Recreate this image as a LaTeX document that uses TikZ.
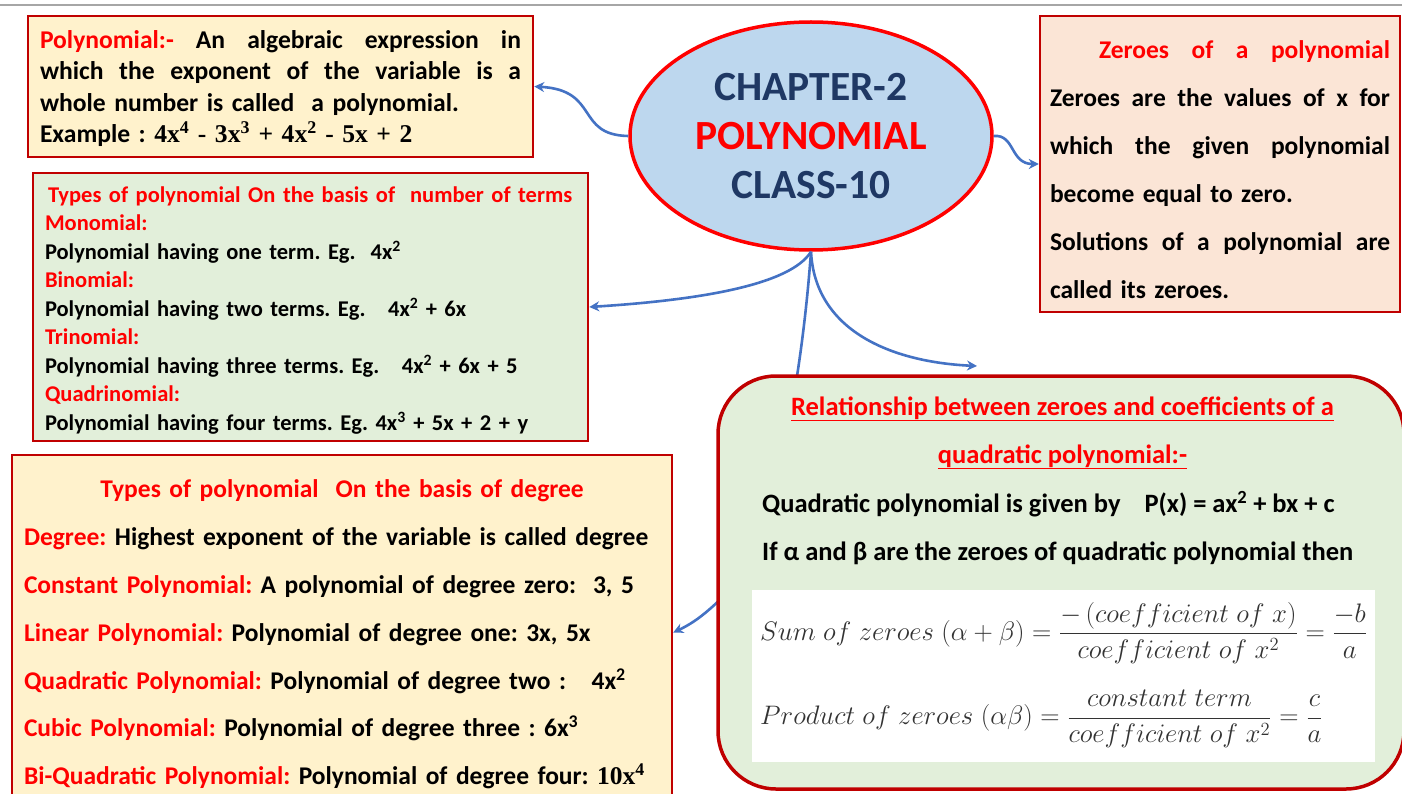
\documentclass[tikz,border=0pt]{standalone}
\usepackage[no-math]{fontspec}
\setmainfont{Carlito}
\newfontfamily\serifnum{Liberation Serif}
\usepackage{xcolor,graphicx}
\definecolor{pnred}{HTML}{FF0000}
\definecolor{pnframe}{HTML}{C00000}
\definecolor{pnyellow}{HTML}{FFF2CC}
\definecolor{pnpeach}{HTML}{FBE5D6}
\definecolor{pngreen}{HTML}{E2EFDA}
\definecolor{pnblue}{HTML}{BDD7EE}
\definecolor{pnnavy}{HTML}{1F3864}
\definecolor{pnlink}{HTML}{4472C4}
\usetikzlibrary{arrows.meta,shapes.geometric,positioning}
\newcommand{\hl}[1]{\textcolor{pnred}{#1}}
\newcommand{\spread}[2]{\makebox[#1][l]{#2}}
\newcommand{\sq}[1]{\textsuperscript{#1}}
\newcommand{\redline}[1]{\setbox0\hbox{#1}\rlap{\rule[-6pt]{\wd0}{1.8pt}}\box0}
\frenchspacing

\begin{document}
\begin{tikzpicture}[x=1pt,y=-1pt,
  card/.style={rectangle,draw=pnframe,line width=2.5pt,inner sep=0pt,align=left},
  hub/.style={ellipse,draw=pnred,line width=3.5pt,fill=pnblue,inner sep=0pt,
    minimum width=362pt,minimum height=228pt,align=center},
  link/.style={pnlink,line width=2.6pt,-{Stealth[length=10pt,width=10pt]}},
  rule/.style={anchor=west,inner sep=0pt,text=black!80,font=\fontsize{20.74}{25}\selectfont}]
  \useasboundingbox (0,0) rectangle (1402,794);
  \fill[white] (0,0) rectangle (1402,794);
  \clip (0,0) rectangle (1402,794);
  \draw[black!35,line width=1.5pt] (0,5) -- (1402,5);

  % definition
  \node[card,fill=pnyellow,minimum width=505pt,minimum height=141pt,text width=481pt,
    font=\bfseries\fontsize{25.6}{31.3}\selectfont] (defn) at (280.5,86.5)
    {\spread{481pt}{\rule{0pt}{22pt}\hl{Polynomial:-}\hfill An\hfill algebraic\hfill expression\hfill in}\\
     \spread{481pt}{which\hfill the\hfill exponent\hfill of\hfill the\hfill variable\hfill is\hfill a}\\
     whole number is called\ \ a polynomial.\\
     Example : {\serifnum 4x\sq{4} - 3x\sq{3} + 4x\sq{2} - 5x + 2}};

  \node[hub,font=\bfseries\fontsize{41.5}{49}\selectfont] (hub) at (811,136)
    {\textcolor{pnnavy}{CHAPTER-2}\\ \textcolor{pnred}{POLYNOMIAL}\\ \textcolor{pnnavy}{CLASS-10}};

  % zeroes
  \node[card,fill=pnpeach,minimum width=360pt,minimum height=296pt,text width=340pt,
    font=\bfseries\fontsize{25.5}{48}\selectfont] (zer) at (1220,164)
    {\rule{0pt}{29pt}\hspace*{49pt}\spread{291pt}{\hl{Zeroes\hfill of\hfill a\hfill polynomial}}\\
     \spread{340pt}{Zeroes\hfill are\hfill the\hfill values\hfill of\hfill x\hfill for}\\
     \spread{340pt}{which\hfill the\hfill given\hfill polynomial}\\
     become equal to zero.\\
     \spread{340pt}{Solutions\hfill of\hfill a\hfill polynomial\hfill are}\\
     called its zeroes.};

  % number of terms
  \node[card,fill=pngreen,minimum width=555pt,minimum height=268pt,text width=531pt,
    font=\bfseries\fontsize{22.5}{28.5}\selectfont] (terms) at (310.5,307)
    {\rule{0pt}{22pt}\hspace*{3pt}\hl{Types of polynomial On the basis of\ \ number of terms}\\
     \hl{Monomial:}\\
     Polynomial having one term. Eg.\ \ 4x\sq{2}\\
     \hl{Binomial:}\\
     Polynomial having two terms. Eg.\ \ \ 4x\sq{2} + 6x\\
     \hl{Trinomial:}\\
     Polynomial having three terms. Eg.\ \ \ 4x\sq{2} + 6x + 5\\
     \hl{Quadrinomial:}\\
     Polynomial having four terms. Eg. 4x\sq{3} + 5x + 2 + y};

  % degree
  \node[card,fill=pnyellow,minimum width=660pt,minimum height=355pt,text width=636pt,
    font=\bfseries\fontsize{25.5}{47.8}\selectfont] (deg) at (342,632.5)
    {\rule{0pt}{22pt}\makebox[636pt]{\hl{Types of polynomial\ \ On the basis of degree}}\\
     \hl{Degree:} Highest exponent of the variable is called degree\\
     \hl{Constant Polynomial:} A polynomial of degree zero:\ \ 3, 5\\
     \hl{Linear Polynomial:} Polynomial of degree one: 3x, 5x\\
     \hl{Quadratic Polynomial:} Polynomial of degree two :\ \ \ 4x\sq{2}\\
     \hl{Cubic Polynomial:} Polynomial of degree three : 6x\sq{3}\\
     \hl{Bi-Quadratic Polynomial:} Polynomial of degree four: {\serifnum 10x\sq{4}}};

  \coordinate (relin) at (977,366);
  \draw[link] (hub.west) .. controls (575,135) and (600,90) .. (defn.east);
  \draw[link] (hub.east) .. controls (1015,134) and (1010,164) .. (zer.west);
  \draw[link] (hub.south) .. controls (790,285) and (700,300) .. (terms.east);
  \draw[link] (hub.south) .. controls (815,330) and (890,362) .. (relin);
  % runs under the relationship card
  \draw[link] (hub.south) .. controls (806,320) and (790,480) .. (740,580)
    .. controls (715,605) and (700,620) .. (deg.east);

  % relationship
  \node[card,fill=pngreen,line width=3.5pt,rounded corners=58pt,
    minimum width=686pt,minimum height=413pt] (rel) at (1061,582.5) {};
  \node[align=center,inner sep=0pt,text=pnred,font=\bfseries\fontsize{26.5}{48}\selectfont] (reltitle)
    at (1062.5,433) {\redline{Relationship between zeroes and coefficients of a}\\
    \redline{quadratic polynomial:-}};
  \node[align=left,anchor=west,inner sep=0pt,font=\bfseries\fontsize{26.5}{48}\selectfont] (relbody)
    at (762,528) {Quadratic polynomial is given by\ \ \ \ P(x) = ax\sq{2} + bx + c\\
    If α and β are the zeroes of quadratic polynomial then};
  \node[fill=white,minimum width=623pt,minimum height=172pt] (sums) at (1063.5,676) {};
  \node[rule] (sumrule) at (760,633)
    {\scalebox{1.29}{$\displaystyle Sum\;of\;zeroes\;(\alpha+\beta)=\frac{-\,(coefficient\;of\;x)}{coefficient\;of\;x^2}=\frac{-b}{a}$}};
  \node[rule] (prodrule) at (760,719)
    {\scalebox{1.29}{$\displaystyle Product\;of\;zeroes\;(\alpha\beta)=\frac{constant\;term}{coefficient\;of\;x^2}=\frac{c}{a}$}};
\end{tikzpicture}
\end{document}
